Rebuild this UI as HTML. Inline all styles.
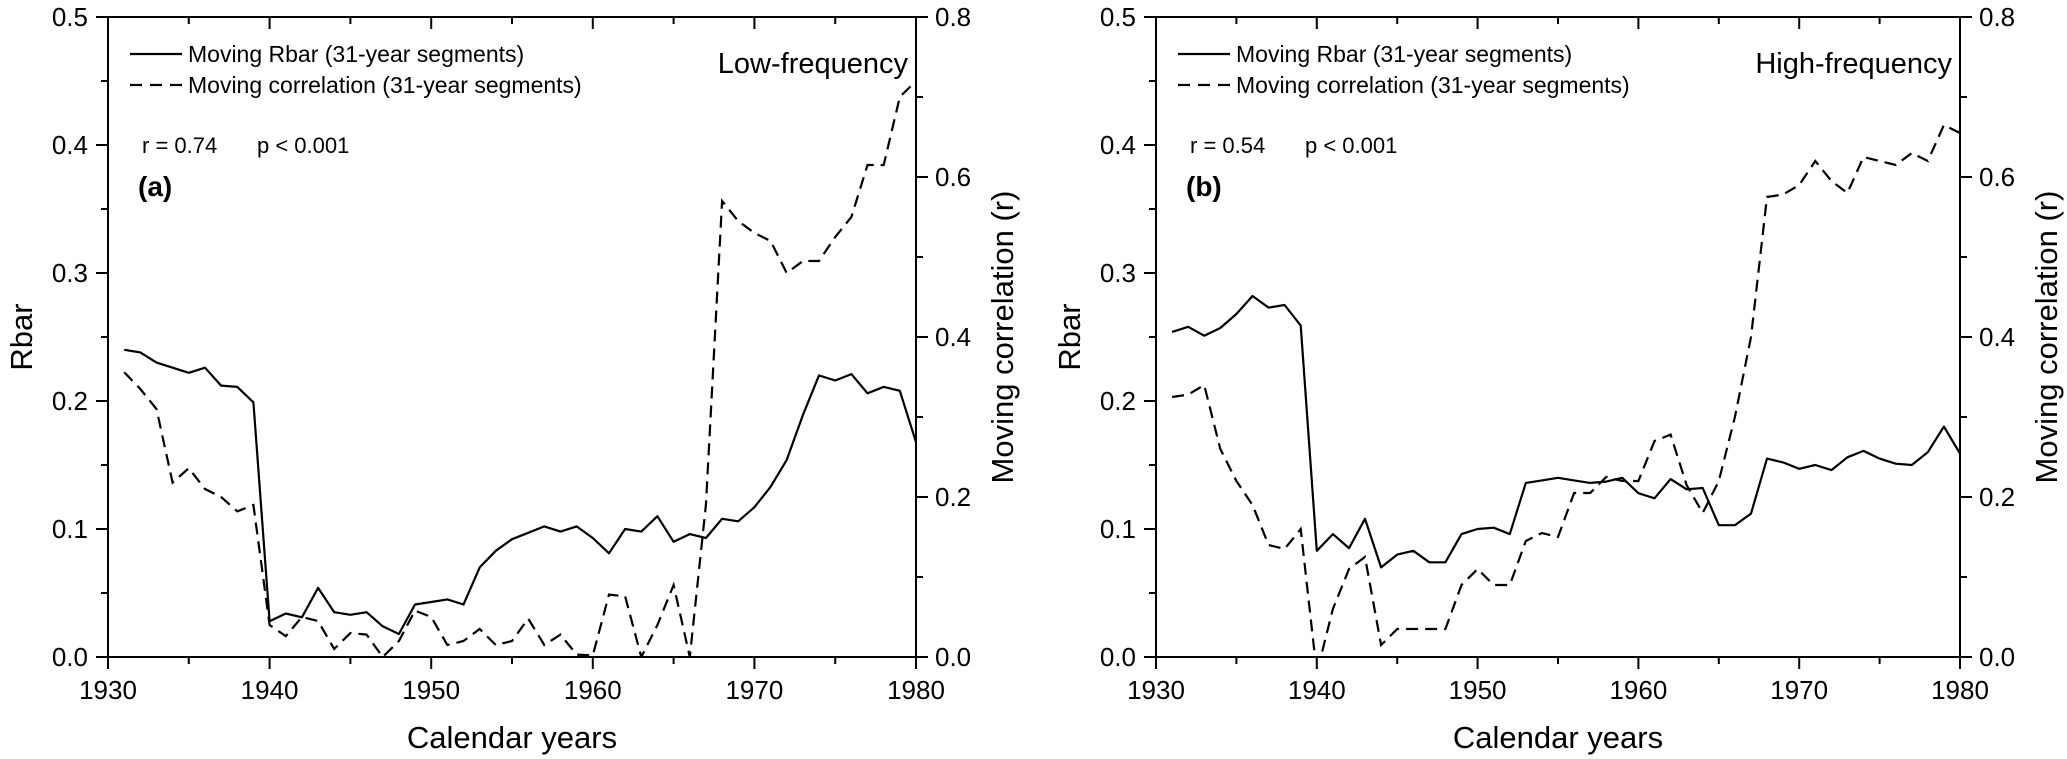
<!DOCTYPE html>
<html><head><meta charset="utf-8"><style>
html,body{margin:0;padding:0;background:#fff}
svg{display:block;font-family:"Liberation Sans",Arial,sans-serif}
</style></head><body>
<svg id="chart" width="2067" height="759" viewBox="0 0 2067 759" xmlns="http://www.w3.org/2000/svg"></svg>
<script>
const years = [];
for (let y = 1931; y <= 1980; y++) years.push(y);
const xTicks = [1930, 1940, 1950, 1960, 1970, 1980];
const leftTicks = [0.0, 0.1, 0.2, 0.3, 0.4, 0.5];
const rightTicks = [0.0, 0.2, 0.4, 0.6, 0.8];
const rbarLow = [0.240,0.238,0.230,0.226,0.222,0.226,0.212,0.211,0.199,0.028,0.034,0.031,0.054,0.035,0.033,0.035,0.024,0.018,0.041,0.043,0.045,0.041,0.070,0.083,0.092,0.097,0.102,0.098,0.102,0.093,0.081,0.100,0.098,0.110,0.090,0.096,0.093,0.108,0.106,0.117,0.133,0.154,0.189,0.220,0.216,0.221,0.206,0.211,0.208,0.168];
const corrLow = [0.356,0.335,0.31,0.218,0.236,0.21,0.2,0.182,0.19,0.04,0.026,0.05,0.045,0.01,0.03,0.028,0.0,0.02,0.058,0.05,0.015,0.02,0.035,0.015,0.02,0.048,0.015,0.028,0.003,0.002,0.078,0.076,0.0,0.04,0.09,0.0,0.19,0.57,0.545,0.53,0.52,0.48,0.495,0.495,0.525,0.55,0.615,0.615,0.7,0.72];
const rbarHigh = [0.254,0.258,0.251,0.257,0.268,0.282,0.273,0.275,0.259,0.083,0.096,0.085,0.108,0.070,0.080,0.083,0.074,0.074,0.096,0.100,0.101,0.096,0.136,0.138,0.140,0.138,0.136,0.137,0.140,0.128,0.124,0.139,0.131,0.132,0.103,0.103,0.112,0.155,0.152,0.147,0.150,0.146,0.156,0.161,0.155,0.151,0.150,0.160,0.180,0.159];
const corrHigh = [0.325,0.328,0.34,0.26,0.22,0.19,0.14,0.135,0.16,-0.02,0.06,0.11,0.125,0.015,0.035,0.035,0.035,0.035,0.09,0.11,0.09,0.09,0.145,0.155,0.15,0.205,0.205,0.225,0.22,0.22,0.27,0.278,0.215,0.18,0.22,0.3,0.4,0.575,0.578,0.59,0.62,0.595,0.58,0.625,0.62,0.615,0.63,0.62,0.665,0.655];

const NS = "http://www.w3.org/2000/svg";
const svg = document.getElementById('chart');
function mk(tag, attrs, parent, text) {
  const e = document.createElementNS(NS, tag);
  for (const k in attrs) e.setAttribute(k, attrs[k]);
  if (text !== undefined) e.textContent = text;
  (parent || svg).appendChild(e);
  return e;
}
const plotTop = 17, plotBottom = 657;

function panel(id, L, R, rbar, corr, label, freq, stat) {
  const T = plotTop, B = plotBottom;
  const g = mk('g', {});
  
  
  const xs = v => L + (v - 1930) / 50 * (R - L);
  const yl = v => B - v / 0.5 * (B - T);
  const yr = v => B - v / 0.8 * (B - T);
  const cp = mk('clipPath', {id: 'clip' + id}, g);
  mk('rect', {x: L, y: T, width: R - L, height: B - T}, cp);
  const ax = mk('path', {d: `M${L},${B}V${T}H${R}V${B}Z`, fill: 'none', stroke: '#000', 'stroke-width': 2}, g);
  
  
  for (let v = 1930; v <= 1980; v += 5) {
    const major = v % 10 === 0;
    mk('line', {x1: xs(v), x2: xs(v), y1: B, y2: B + (major ? 12 : 7), stroke: '#000', 'stroke-width': 2}, g);
    mk('line', {x1: xs(v), x2: xs(v), y1: T, y2: T + (major ? 12 : 7), stroke: '#000', 'stroke-width': 2}, g);
  }
  xTicks.forEach(v => {
    const t = mk('text', {x: xs(v), y: B + 42, 'text-anchor': 'middle', 'font-size': 26}, g, String(v));
    
    
  });
  for (let i = 0; i <= 10; i++) {
    const v = i * 0.05, major = i % 2 === 0;
    mk('line', {x1: L - (major ? 12 : 7), x2: L, y1: yl(v), y2: yl(v), stroke: '#000', 'stroke-width': 2}, g);
  }
  leftTicks.forEach(v => {
    const t = mk('text', {x: L - 20, y: yl(v) + 9, 'text-anchor': 'end', 'font-size': 26}, g, v.toFixed(1));
    
    
  });
  for (let i = 0; i <= 8; i++) {
    const v = i * 0.1, major = i % 2 === 0;
    mk('line', {x1: R, x2: R + (major ? 12 : 7), y1: yr(v), y2: yr(v), stroke: '#000', 'stroke-width': 2}, g);
  }
  rightTicks.forEach(v => {
    const t = mk('text', {x: R + 19, y: yr(v) + 9, 'text-anchor': 'start', 'font-size': 26}, g, v.toFixed(1));
    
    
  });
  const xt = mk('text', {x: (L + R) / 2, y: 748, 'text-anchor': 'middle', 'font-size': 31}, g, 'Calendar years');
  
  
  const cy = (T + B) / 2;
  const lxT = L - 76;
  const ylt = mk('text', {x: lxT, y: cy, 'text-anchor': 'middle', 'font-size': 31, transform: `rotate(-90 ${lxT} ${cy})`}, g, 'Rbar');
  
  
  const rxT = R + 97;
  const yrt = mk('text', {x: rxT, y: cy, 'text-anchor': 'middle', 'font-size': 31, transform: `rotate(-90 ${rxT} ${cy})`}, g, 'Moving correlation (r)');
  
  
  const d1 = rbar.map((v, i) => (i ? 'L' : 'M') + xs(years[i]).toFixed(1) + ',' + yl(v).toFixed(1)).join('');
  const s1 = mk('path', {d: d1, fill: 'none', stroke: '#000', 'stroke-width': 2.2, 'clip-path': `url(#clip${id})`, 'stroke-linejoin': 'round'}, g);
  
  
  const d2 = corr.map((v, i) => (i ? 'L' : 'M') + xs(years[i]).toFixed(1) + ',' + yr(v).toFixed(1)).join('');
  const s2 = mk('path', {d: d2, fill: 'none', stroke: '#000', 'stroke-width': 2.2, 'stroke-dasharray': '12 7', 'clip-path': `url(#clip${id})`}, g);
  
  
  const lg = mk('g', {}, g);
  
  
  const lx = L + 22;
  mk('line', {x1: lx, x2: lx + 52, y1: 54, y2: 54, stroke: '#000', 'stroke-width': 2.2}, lg);
  const l1 = mk('text', {x: lx + 58, y: 62, 'font-size': 23}, lg, 'Moving Rbar (31-year segments)');
  
  
  mk('line', {x1: lx, x2: lx + 52, y1: 85, y2: 85, stroke: '#000', 'stroke-width': 2.2, 'stroke-dasharray': '12 8'}, lg);
  const l2 = mk('text', {x: lx + 58, y: 93, 'font-size': 23}, lg, 'Moving correlation (31-year segments)');
  
  
  const ft = mk('text', {x: R - 8, y: 73, 'text-anchor': 'end', 'font-size': 29}, g, freq);
  
  
  const st1 = mk('text', {x: L + 34, y: 153, 'font-size': 22}, g, stat);
  
  
  const st2 = mk('text', {x: L + 149, y: 153, 'font-size': 22}, g, 'p < 0.001');
  
  
  const pl = mk('text', {x: L + 30, y: 196, 'font-size': 28, 'font-weight': 'bold'}, g, label);
  
  
}
panel('a', 108, 916, rbarLow, corrLow, '(a)', 'Low-frequency', 'r = 0.74');
panel('b', 1156, 1960, rbarHigh, corrHigh, '(b)', 'High-frequency', 'r = 0.54');
</script>
</body></html>
